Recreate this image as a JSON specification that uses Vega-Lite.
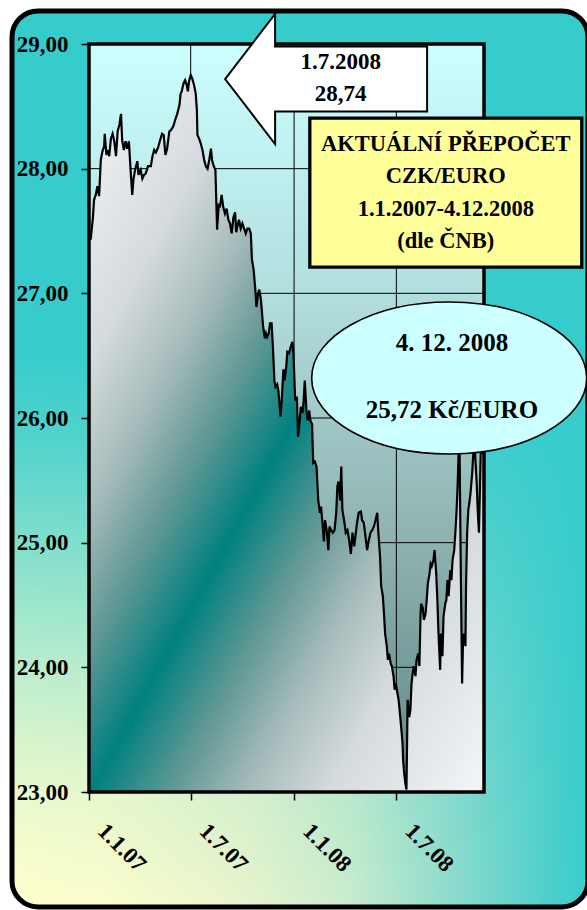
{
  "$schema": "https://vega.github.io/schema/vega-lite/v6.json",
  "width": 395,
  "height": 748,
  "autosize": "none",
  "padding": {"left": 89, "top": 44, "right": 103, "bottom": 118},
  "background": "white",
  "config": {"view": {"stroke": null}},
  "data": {"values": [
    {"d":"2007-01-04","v":27.43},{"d":"2007-01-08","v":27.61},{"d":"2007-01-10","v":27.75},{"d":"2007-01-13","v":27.79},{"d":"2007-01-16","v":27.86},{"d":"2007-01-19","v":27.78},{"d":"2007-01-22","v":28.07},{"d":"2007-01-25","v":28.14},{"d":"2007-01-28","v":28.18},{"d":"2007-01-29","v":28.28},
    {"d":"2007-02-01","v":28.11},{"d":"2007-02-04","v":28.15},{"d":"2007-02-06","v":28.10},{"d":"2007-02-09","v":28.24},{"d":"2007-02-12","v":28.28},{"d":"2007-02-15","v":28.22},{"d":"2007-02-18","v":28.10},{"d":"2007-02-21","v":28.30},{"d":"2007-02-24","v":28.35},{"d":"2007-02-27","v":28.44},
    {"d":"2007-03-01","v":28.23},{"d":"2007-03-04","v":28.15},{"d":"2007-03-07","v":28.22},{"d":"2007-03-10","v":28.16},{"d":"2007-03-13","v":28.22},{"d":"2007-03-16","v":27.99},{"d":"2007-03-19","v":27.79},{"d":"2007-03-21","v":27.91},{"d":"2007-03-24","v":27.99},{"d":"2007-03-28","v":28.06},{"d":"2007-03-30","v":27.95},
    {"d":"2007-04-03","v":27.99},{"d":"2007-04-06","v":27.92},{"d":"2007-04-09","v":27.95},{"d":"2007-04-12","v":27.96},{"d":"2007-04-16","v":28.02},{"d":"2007-04-21","v":28.02},{"d":"2007-04-24","v":28.10},{"d":"2007-04-27","v":28.15},{"d":"2007-04-30","v":28.13},
    {"d":"2007-05-04","v":28.17},{"d":"2007-05-07","v":28.22},{"d":"2007-05-11","v":28.28},{"d":"2007-05-14","v":28.27},{"d":"2007-05-17","v":28.11},{"d":"2007-05-20","v":28.16},{"d":"2007-05-24","v":28.30},{"d":"2007-05-27","v":28.31},{"d":"2007-05-31","v":28.34},
    {"d":"2007-06-04","v":28.40},{"d":"2007-06-07","v":28.44},{"d":"2007-06-11","v":28.51},{"d":"2007-06-13","v":28.60},{"d":"2007-06-15","v":28.62},{"d":"2007-06-18","v":28.68},{"d":"2007-06-21","v":28.71},{"d":"2007-06-24","v":28.67},{"d":"2007-06-26","v":28.62},{"d":"2007-06-28","v":28.70},
    {"d":"2007-07-01","v":28.75},{"d":"2007-07-04","v":28.72},{"d":"2007-07-07","v":28.67},{"d":"2007-07-10","v":28.60},{"d":"2007-07-12","v":28.47},{"d":"2007-07-13","v":28.27},{"d":"2007-07-16","v":28.24},{"d":"2007-07-19","v":28.20},{"d":"2007-07-22","v":28.15},{"d":"2007-07-25","v":28.07},{"d":"2007-07-28","v":28.02},{"d":"2007-07-31","v":28.00},
    {"d":"2007-08-03","v":28.07},{"d":"2007-08-06","v":28.16},{"d":"2007-08-08","v":28.07},{"d":"2007-08-11","v":28.02},{"d":"2007-08-14","v":27.99},{"d":"2007-08-17","v":27.51},{"d":"2007-08-20","v":27.72},{"d":"2007-08-22","v":27.69},{"d":"2007-08-25","v":27.79},{"d":"2007-08-28","v":27.69},{"d":"2007-08-31","v":27.64},
    {"d":"2007-09-03","v":27.68},{"d":"2007-09-06","v":27.59},{"d":"2007-09-09","v":27.56},{"d":"2007-09-12","v":27.48},{"d":"2007-09-15","v":27.61},{"d":"2007-09-18","v":27.65},{"d":"2007-09-20","v":27.49},{"d":"2007-09-23","v":27.56},{"d":"2007-09-25","v":27.59},{"d":"2007-09-28","v":27.52},
    {"d":"2007-10-01","v":27.56},{"d":"2007-10-04","v":27.52},{"d":"2007-10-07","v":27.48},{"d":"2007-10-10","v":27.52},{"d":"2007-10-13","v":27.52},{"d":"2007-10-16","v":27.48},{"d":"2007-10-18","v":27.27},{"d":"2007-10-21","v":27.19},{"d":"2007-10-24","v":27.03},{"d":"2007-10-26","v":26.89},{"d":"2007-10-29","v":27.00},{"d":"2007-10-31","v":27.03},
    {"d":"2007-11-03","v":26.95},{"d":"2007-11-05","v":26.84},{"d":"2007-11-07","v":26.73},{"d":"2007-11-10","v":26.64},{"d":"2007-11-12","v":26.68},{"d":"2007-11-14","v":26.65},{"d":"2007-11-17","v":26.68},{"d":"2007-11-19","v":26.76},{"d":"2007-11-22","v":26.76},{"d":"2007-11-24","v":26.60},{"d":"2007-11-27","v":26.30},{"d":"2007-11-29","v":26.25},
    {"d":"2007-12-02","v":26.27},{"d":"2007-12-04","v":26.22},{"d":"2007-12-06","v":26.12},{"d":"2007-12-08","v":26.01},{"d":"2007-12-10","v":26.14},{"d":"2007-12-13","v":26.39},{"d":"2007-12-15","v":26.30},{"d":"2007-12-18","v":26.41},{"d":"2007-12-20","v":26.53},{"d":"2007-12-23","v":26.52},{"d":"2007-12-26","v":26.57},{"d":"2007-12-29","v":26.61},{"d":"2007-12-31","v":26.51},
    {"d":"2008-01-03","v":26.14},{"d":"2008-01-06","v":26.17},{"d":"2008-01-08","v":25.85},{"d":"2008-01-11","v":25.98},{"d":"2008-01-13","v":26.09},{"d":"2008-01-16","v":26.04},{"d":"2008-01-18","v":26.14},{"d":"2008-01-20","v":26.30},{"d":"2008-01-23","v":26.06},{"d":"2008-01-25","v":25.98},{"d":"2008-01-28","v":26.06},{"d":"2008-01-30","v":25.98},
    {"d":"2008-02-02","v":25.95},{"d":"2008-02-04","v":25.64},{"d":"2008-02-07","v":25.65},{"d":"2008-02-10","v":25.61},{"d":"2008-02-13","v":25.34},{"d":"2008-02-16","v":25.24},{"d":"2008-02-18","v":25.29},{"d":"2008-02-21","v":25.13},{"d":"2008-02-23","v":25.01},{"d":"2008-02-25","v":25.18},{"d":"2008-02-28","v":25.10},
    {"d":"2008-03-02","v":24.94},{"d":"2008-03-04","v":25.13},{"d":"2008-03-07","v":25.10},{"d":"2008-03-10","v":25.08},{"d":"2008-03-13","v":25.10},{"d":"2008-03-16","v":25.24},{"d":"2008-03-18","v":25.45},{"d":"2008-03-20","v":25.49},{"d":"2008-03-23","v":25.34},{"d":"2008-03-25","v":25.61},{"d":"2008-03-27","v":25.26},{"d":"2008-03-30","v":25.18},
    {"d":"2008-04-02","v":25.08},{"d":"2008-04-05","v":25.10},{"d":"2008-04-08","v":25.02},{"d":"2008-04-11","v":24.91},{"d":"2008-04-14","v":25.08},{"d":"2008-04-17","v":24.97},{"d":"2008-04-20","v":25.08},{"d":"2008-04-22","v":25.16},{"d":"2008-04-25","v":25.24},{"d":"2008-04-29","v":25.25},
    {"d":"2008-05-01","v":25.18},{"d":"2008-05-04","v":25.16},{"d":"2008-05-07","v":25.05},{"d":"2008-05-10","v":24.94},{"d":"2008-05-13","v":25.02},{"d":"2008-05-16","v":25.08},{"d":"2008-05-19","v":25.10},{"d":"2008-05-22","v":25.13},{"d":"2008-05-25","v":25.18},{"d":"2008-05-28","v":25.24},{"d":"2008-05-30","v":25.08},
    {"d":"2008-06-02","v":24.89},{"d":"2008-06-04","v":24.65},{"d":"2008-06-07","v":24.57},{"d":"2008-06-09","v":24.43},{"d":"2008-06-11","v":24.27},{"d":"2008-06-14","v":24.17},{"d":"2008-06-16","v":24.06},{"d":"2008-06-18","v":24.11},{"d":"2008-06-21","v":24.03},{"d":"2008-06-23","v":24.01},{"d":"2008-06-26","v":23.93},{"d":"2008-06-28","v":23.82},{"d":"2008-06-30","v":23.87},
    {"d":"2008-07-03","v":23.79},{"d":"2008-07-05","v":23.74},{"d":"2008-07-08","v":23.60},{"d":"2008-07-10","v":23.50},{"d":"2008-07-12","v":23.39},{"d":"2008-07-13","v":23.26},{"d":"2008-07-15","v":23.15},{"d":"2008-07-17","v":23.07},{"d":"2008-07-19","v":23.02},{"d":"2008-07-20","v":23.36},{"d":"2008-07-21","v":23.74},{"d":"2008-07-24","v":23.60},{"d":"2008-07-26","v":23.66},{"d":"2008-07-28","v":23.87},{"d":"2008-07-30","v":23.95},
    {"d":"2008-08-01","v":24.01},{"d":"2008-08-04","v":23.93},{"d":"2008-08-06","v":24.06},{"d":"2008-08-09","v":24.11},{"d":"2008-08-11","v":24.01},{"d":"2008-08-13","v":24.41},{"d":"2008-08-14","v":24.51},{"d":"2008-08-17","v":24.48},{"d":"2008-08-19","v":24.38},{"d":"2008-08-22","v":24.43},{"d":"2008-08-24","v":24.54},{"d":"2008-08-26","v":24.67},{"d":"2008-08-29","v":24.75},{"d":"2008-08-31","v":24.83},
    {"d":"2008-09-02","v":24.81},{"d":"2008-09-05","v":24.86},{"d":"2008-09-07","v":24.94},{"d":"2008-09-10","v":24.75},{"d":"2008-09-12","v":24.54},{"d":"2008-09-14","v":24.27},{"d":"2008-09-17","v":23.98},{"d":"2008-09-18","v":24.27},{"d":"2008-09-21","v":24.09},{"d":"2008-09-23","v":24.41},{"d":"2008-09-26","v":24.51},{"d":"2008-09-28","v":24.54},{"d":"2008-09-30","v":24.70},
    {"d":"2008-10-02","v":24.57},{"d":"2008-10-05","v":24.78},{"d":"2008-10-07","v":24.70},{"d":"2008-10-09","v":24.86},{"d":"2008-10-12","v":24.94},{"d":"2008-10-14","v":25.08},{"d":"2008-10-16","v":25.24},{"d":"2008-10-18","v":25.45},{"d":"2008-10-20","v":25.75},{"d":"2008-10-21","v":26.00},{"d":"2008-10-23","v":25.08},{"d":"2008-10-25","v":24.27},{"d":"2008-10-26","v":23.87},{"d":"2008-10-28","v":24.27},{"d":"2008-10-30","v":24.25},
    {"d":"2008-11-01","v":24.17},{"d":"2008-11-02","v":24.65},{"d":"2008-11-04","v":25.08},{"d":"2008-11-06","v":25.26},{"d":"2008-11-08","v":25.32},{"d":"2008-11-10","v":25.40},{"d":"2008-11-13","v":25.56},{"d":"2008-11-15","v":25.72},{"d":"2008-11-17","v":25.85},{"d":"2008-11-18","v":25.72},{"d":"2008-11-21","v":25.48},{"d":"2008-11-23","v":25.24},{"d":"2008-11-25","v":25.08},{"d":"2008-11-27","v":25.48},{"d":"2008-11-29","v":25.90},
    {"d":"2008-12-02","v":25.72},{"d":"2008-12-04","v":25.72}
  ]},
  "layer": [
    {
      "data": {"values": [{}]},
      "mark": {"type": "rect", "cornerRadius": 26, "fill": {"gradient": "linear", "x1": 0, "y1": 0, "x2": 1, "y2": 0, "stops": [
        {"offset": 0, "color": "#FFFFCC"}, {"offset": 0.15, "color": "#FCFDCC"}, {"offset": 0.41, "color": "#E8F4CC"}, {"offset": 0.59, "color": "#C8ECCC"}, {"offset": 0.76, "color": "#90DCCC"}, {"offset": 0.93, "color": "#50D0CC"}, {"offset": 1, "color": "#38CCCC"}]}},
      "encoding": {
        "x": {"datum": {"year": 2006, "month": 8, "date": 17}, "type": "temporal"},
        "x2": {"datum": {"year": 2009, "month": 6, "date": 7}},
        "y": {"datum": 29.265, "type": "quantitative"},
        "y2": {"datum": 22.078}
      }
    },
    {
      "data": {"values": [{}]},
      "mark": {"type": "rect", "cornerRadius": 26, "stroke": "black", "strokeWidth": 5, "fill": {"gradient": "linear", "x1": 0, "y1": 0, "x2": 0, "y2": 1, "stops": [
        {"offset": 0, "color": "rgba(54,204,204,1)"}, {"offset": 0.38, "color": "rgba(54,204,204,1)"}, {"offset": 0.47, "color": "rgba(54,204,204,0.88)"}, {"offset": 0.59, "color": "rgba(54,204,204,0.64)"}, {"offset": 0.73, "color": "rgba(54,204,204,0.35)"}, {"offset": 0.87, "color": "rgba(54,204,204,0.11)"}, {"offset": 1, "color": "rgba(54,204,204,0)"}]}},
      "encoding": {
        "x": {"datum": {"year": 2006, "month": 8, "date": 17}, "type": "temporal"},
        "x2": {"datum": {"year": 2009, "month": 6, "date": 7}},
        "y": {"datum": 29.265, "type": "quantitative"},
        "y2": {"datum": 22.078}
      }
    },
    {
      "data": {"values": [{}]},
      "mark": {"type": "rect", "fill": {"gradient": "linear", "x1": 0, "y1": 0, "x2": 0, "y2": 1, "stops": [
        {"offset": 0, "color": "#CCFFFF"}, {"offset": 0.35, "color": "#B0DCDC"}, {"offset": 0.65, "color": "#90B4B2"}, {"offset": 1, "color": "#5E8886"}]}},
      "encoding": {
        "x": {"datum": {"year": 2007, "month": 1, "date": 1}, "type": "temporal"},
        "x2": {"datum": {"year": 2008, "month": 12, "date": 4}},
        "y": {"datum": 29, "type": "quantitative"},
        "y2": {"datum": 23}
      }
    },
    {
      "data": {"values": [{"g": 24}, {"g": 25}, {"g": 26}, {"g": 27}, {"g": 28}]},
      "mark": {"type": "rule", "color": "black", "strokeWidth": 1},
      "encoding": {"y": {"field": "g", "type": "quantitative"}}
    },
    {
      "data": {"values": [{"t": "2007-07-01"}, {"t": "2008-01-01"}, {"t": "2008-07-01"}]},
      "mark": {"type": "rule", "color": "black", "strokeWidth": 1},
      "encoding": {"x": {"field": "t", "type": "temporal"}}
    },
    {
      "mark": {"type": "area", "fill": {"gradient": "linear", "x1": 0, "y1": 0, "x2": 1, "y2": 1, "stops": [
        {"offset": 0, "color": "#F4F6F8"}, {"offset": 0.2, "color": "#D4DADE"}, {"offset": 0.3, "color": "#A8BCBC"}, {"offset": 0.4, "color": "#609894"}, {"offset": 0.5, "color": "#008080"}, {"offset": 0.6, "color": "#609894"}, {"offset": 0.7, "color": "#A8BCBC"}, {"offset": 0.8, "color": "#D4DADE"}, {"offset": 1, "color": "#F4F6F8"}]}},
      "encoding": {
        "x": {"field": "d", "type": "temporal"},
        "y": {"field": "v", "type": "quantitative"},
        "y2": {"datum": 23}
      }
    },
    {
      "mark": {"type": "line", "color": "black", "strokeWidth": 2.2},
      "encoding": {
        "x": {"field": "d", "type": "temporal",
          "scale": {"domain": [{"year": 2007, "month": 1, "date": 1}, {"year": 2008, "month": 12, "date": 4}], "nice": false},
          "axis": {"values": [{"year": 2007, "month": 1, "date": 1}, {"year": 2007, "month": 7, "date": 1}, {"year": 2008, "month": 1, "date": 1}, {"year": 2008, "month": 7, "date": 1}],
            "format": "%-d.%-m.%y", "labelAngle": 45, "labelAlign": "left", "labelBaseline": "middle", "labelPadding": 27, "labelOffset": 12, "zindex": 2,
            "tickSize": 8, "tickColor": "black", "tickWidth": 1.5, "domain": false, "grid": false, "title": null,
            "labelFont": "Liberation Serif", "labelFontWeight": "bold", "labelFontSize": 23, "labelColor": "black", "labelOverlap": false, "labelFlush": false}},
        "y": {"field": "v", "type": "quantitative",
          "scale": {"domain": [23, 29], "nice": false, "zero": false},
          "axis": {"values": [23, 24, 25, 26, 27, 28, 29], "labelExpr": "replace(format(datum.value, '.2f'), '.', ',')", "zindex": 2,
            "tickSize": 8, "tickColor": "black", "tickWidth": 1.5, "labelPadding": 13, "domain": false, "grid": false, "title": null,
            "labelFont": "Liberation Serif", "labelFontWeight": "bold", "labelFontSize": 23, "labelColor": "black", "labelOverlap": false, "labelFlush": false}}
      }
    },
    {
      "data": {"values": [{}]},
      "mark": {"type": "rect", "fill": "transparent", "stroke": "black", "strokeWidth": 3.5},
      "encoding": {
        "x": {"datum": {"year": 2007, "month": 1, "date": 1}, "type": "temporal"},
        "x2": {"datum": {"year": 2008, "month": 12, "date": 4}},
        "y": {"datum": 29, "type": "quantitative"},
        "y2": {"datum": 23}
      }
    },
    {
      "data": {"values": [{}]},
      "mark": {"type": "point", "shape": "M -1 0 L -0.505 -0.644 L -0.505 -0.322 L 1 -0.322 L 1 0.322 L -0.505 0.322 L -0.505 0.644 Z", "size": 40804, "filled": true, "fill": "white", "stroke": "black", "strokeWidth": 2, "opacity": 1, "fillOpacity": 1},
      "encoding": {
        "x": {"datum": {"year": 2008, "month": 2, "date": 27}, "type": "temporal"},
        "y": {"datum": 28.719, "type": "quantitative"}
      }
    },
    {
      "data": {"values": [{}]},
      "mark": {"type": "text", "text": ["1.7.2008", "28,74"], "lineHeight": 32, "font": "Liberation Serif", "fontWeight": "bold", "fontSize": 23, "color": "black", "align": "center", "baseline": "middle"},
      "encoding": {
        "x": {"datum": {"year": 2008, "month": 3, "date": 24}, "type": "temporal"},
        "y": {"datum": 28.858, "type": "quantitative"}
      }
    },
    {
      "data": {"values": [{}]},
      "mark": {"type": "rect", "fill": "#FFFF99", "stroke": "black", "strokeWidth": 3.3},
      "encoding": {
        "x": {"datum": {"year": 2008, "month": 1, "date": 29}, "type": "temporal"},
        "x2": {"datum": {"year": 2009, "month": 5, "date": 27}},
        "y": {"datum": 28.406, "type": "quantitative"},
        "y2": {"datum": 27.211}
      }
    },
    {
      "data": {"values": [{}]},
      "mark": {"type": "text", "text": ["AKTUÁLNÍ PŘEPOČET", "CZK/EURO", "1.1.2007-4.12.2008", "(dle ČNB)"], "lineHeight": 32.5, "font": "Liberation Serif", "fontWeight": "bold", "fontSize": 22.5, "color": "black", "align": "center", "baseline": "middle"},
      "encoding": {
        "x": {"datum": {"year": 2008, "month": 9, "date": 27}, "type": "temporal"},
        "y": {"datum": 28.198, "type": "quantitative"}
      }
    },
    {
      "data": {"values": [{}]},
      "mark": {"type": "point", "shape": "M -1 0 C -1 -0.3054 -0.5523 -0.553 0 -0.553 C 0.5523 -0.553 1 -0.3054 1 0 C 1 0.3054 0.5523 0.553 0 0.553 C -0.5523 0.553 -1 0.3054 -1 0 Z", "size": 75625, "filled": true, "fill": "#CCFFFF", "stroke": "black", "strokeWidth": 1.6, "opacity": 1, "fillOpacity": 1},
      "encoding": {
        "x": {"datum": {"year": 2008, "month": 10, "date": 3}, "type": "temporal"},
        "y": {"datum": 26.321, "type": "quantitative"}
      }
    },
    {
      "data": {"values": [{}]},
      "mark": {"type": "text", "text": ["4. 12. 2008", "25,72 Kč/EURO"], "lineHeight": 67, "font": "Liberation Serif", "fontWeight": "bold", "fontSize": 25, "color": "black", "align": "center", "baseline": "middle"},
      "encoding": {
        "x": {"datum": {"year": 2008, "month": 10, "date": 8}, "type": "temporal"},
        "y": {"datum": 26.599, "type": "quantitative"}
      }
    }
  ]
}
